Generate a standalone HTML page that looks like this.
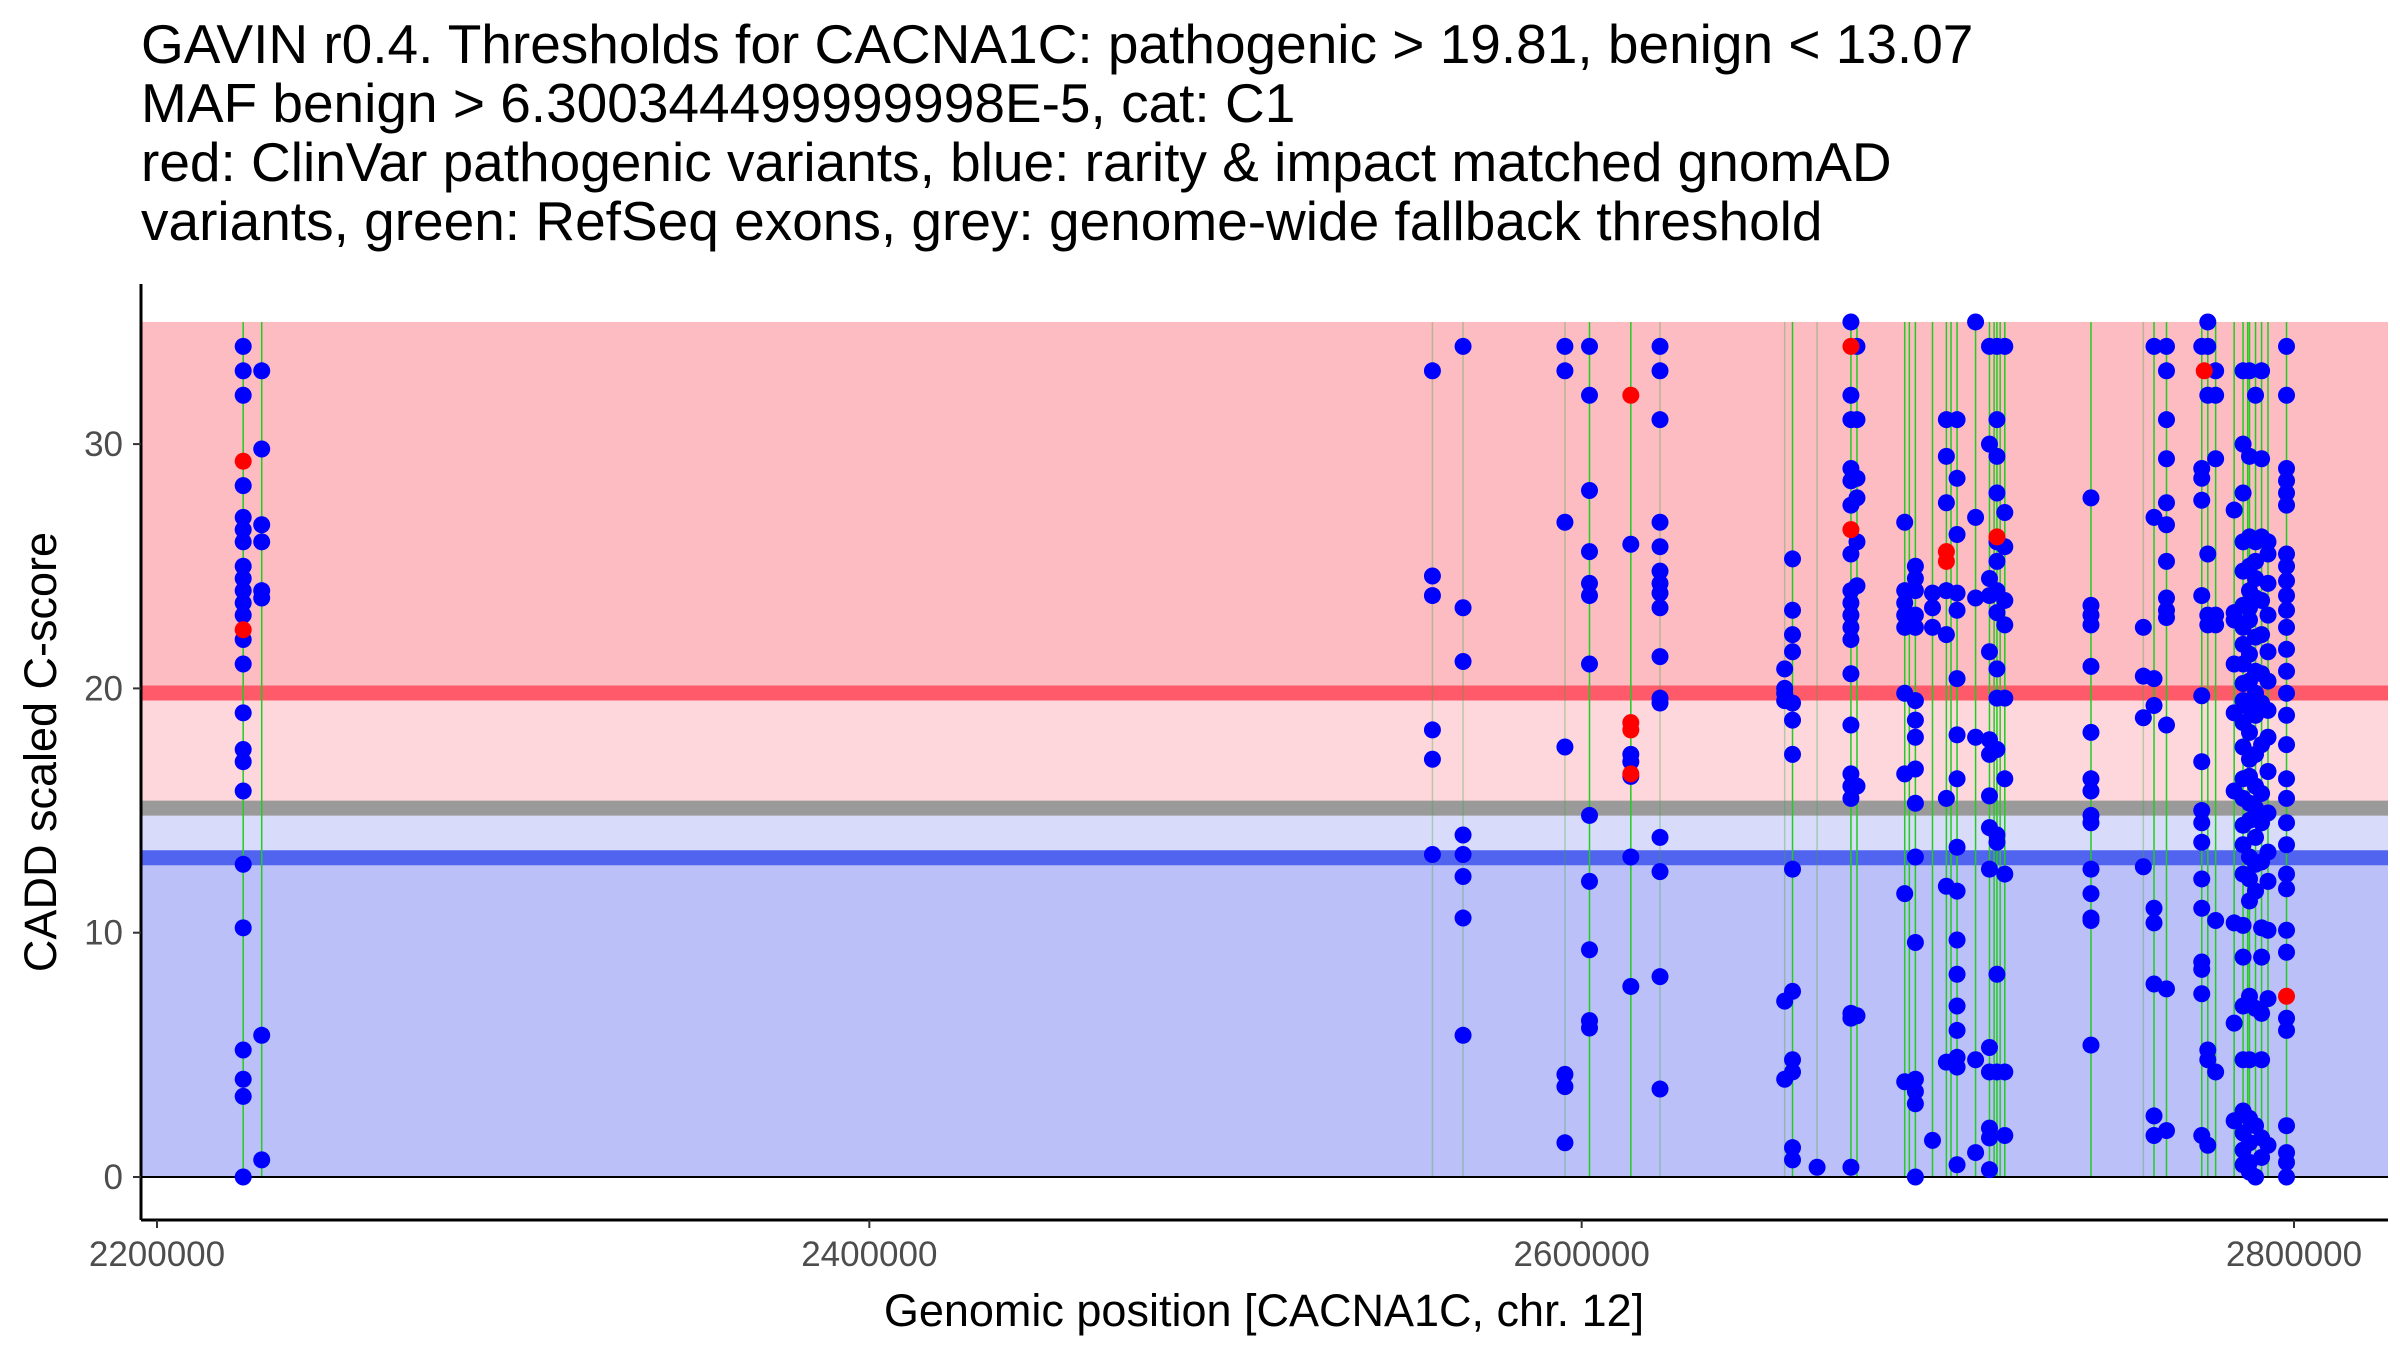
<!DOCTYPE html>
<html><head><meta charset="utf-8">
<style>
html,body{margin:0;padding:0;background:#fff;}
svg{display:block;font-family:"Liberation Sans",Arial,sans-serif;}
</style></head>
<body>
<svg id="chart" width="2400" height="1350" viewBox="0 0 2400 1350" xmlns="http://www.w3.org/2000/svg">
<g font-size="55" fill="#000">
<text x="141" y="63">GAVIN r0.4. Thresholds for CACNA1C: pathogenic &gt; 19.81, benign &lt; 13.07</text>
<text x="141" y="122">MAF benign &gt; 6.300344499999998E-5, cat: C1</text>
<text x="141" y="181">red: ClinVar pathogenic variants, blue: rarity &amp; impact matched gnomAD</text>
<text x="141" y="240">variants, green: RefSeq exons, grey: genome-wide fallback threshold</text>
</g>
<g id="bands"></g>
<g id="exons"></g>
<g id="points"></g>
<g id="axes"></g>
</svg>
<script>
// ---- data ----
const pathogenicThreshold = 19.81;
const benignThreshold = 13.07;
const fallbackThreshold = 15.1;
const bandTop = 35;
const xTicks = [2200000, 2400000, 2600000, 2800000];
const yTicks = [0, 10, 20, 30];
const exonPositions = [2224200,2229400,2602200,2613800,2659200,2675600,2677300,2690700,2692000,2693700,2698500,2702400,2703700,2705400,2710600,2714500,2715800,2716600,2717500,2718800,2743000,2760700,2764200,2774100,2775800,2778000,2783200,2785700,2787000,2787500,2789200,2790900,2792700,2797900];
const faintExonPositions = [2558100,2566700,2595300,2622000,2657000,2666100,2757700];
const clusterPositions = [2224200,2229400,2558100,2566700,2595300,2602200,2613800,2622000,2657000,2659200,2666100,2675600,2677300,2690700,2693700,2698500,2702400,2705400,2710600,2714500,2716600,2718800,2743000,2757700,2760700,2764200,2774100,2775800,2778000,2783200,2785700,2787500,2789200,2790900,2792700,2797900];
const clusterScores = [
 [34,33,32,28.3,27,26.5,26,25,24.5,24,23.5,23,22,21,19,17.5,17,15.8,12.8,10.2,5.2,4,3.3,0],
 [33,29.8,26.7,26,24,23.7,5.8,0.7],
 [33,24.6,23.8,18.3,17.1,13.2],
 [34,23.3,21.1,14,13.2,12.3,10.6,5.8],
 [34,33,26.8,17.6,4.2,3.7,1.4],
 [34,32,28.1,25.6,24.3,23.8,21,14.8,12.1,9.3,6.4,6.1],
 [25.9,17.3,17,16.4,13.1,7.8],
 [34,33,31,26.8,25.8,24.8,24.3,23.9,23.3,21.3,19.6,19.4,13.9,12.5,8.2,3.6],
 [20.8,20,19.8,19.5,7.2,4],
 [25.3,23.2,22.2,21.5,19.4,18.7,17.3,12.6,7.6,4.8,4.3,1.2,0.7],
 [0.4],
 [35,32,31,29,28.5,27.5,25.5,24,23.5,23,22.5,22,20.6,18.5,16.5,16,15.5,6.7,6.5,0.4],
 [34,31,28.6,27.8,26,24.2,16,6.6],
 [26.8,24,23.5,23,22.5,19.8,16.5,11.6,3.9],
 [25,24.5,24,23,22.5,19.5,18.7,18,16.7,15.3,13.1,9.6,4,3.5,3,0],
 [23.9,23.3,22.5,1.5],
 [31,29.5,27.6,24,22.2,15.5,11.9,4.7],
 [31,28.6,26.3,23.9,23.2,20.4,18.1,16.3,13.5,11.7,9.7,8.3,7,6,4.9,4.5,0.5],
 [35,27,23.7,18,4.8,1],
 [34,30,24.5,23.8,21.5,17.9,17.3,15.6,14.3,12.6,5.3,4.3,2,1.6,0.3],
 [34,31,29.5,28,26,25.2,24,23.1,20.8,19.6,17.5,14,13.7,8.3,4.3],
 [34,27.2,25.8,23.6,22.6,19.6,16.3,12.4,4.3,1.7],
 [27.8,23.4,23,22.6,20.9,18.2,16.3,15.8,14.8,14.5,12.6,11.6,10.6,10.5,5.4],
 [22.5,20.5,18.8,12.7],
 [34,27,20.4,19.3,11,10.4,7.9,2.5,1.7],
 [34,33,31,29.4,27.6,26.7,25.2,23.7,23.2,22.9,18.5,7.7,1.9],
 [34,29,28.6,27.7,23.8,19.7,17,15,14.5,13.7,12.2,11,8.8,8.5,7.5,1.7],
 [35,34,32,25.5,23,22.6,5.2,4.8,1.3],
 [33,32,29.4,23,22.6,10.5,4.3],
 [27.3,23.1,22.8,21,19,15.8,10.4,6.3,2.3],
 [33,30,28,26,24.8,23.4,22.5,21.8,21,20.2,19.5,18.6,17.6,16.3,15.5,14.4,13.6,12.4,10.3,9,7,4.8,2.7,1.8,1.1,0.5],
 [33,29.5,26.2,25,24,23.3,22.8,21.4,20.3,19.2,18.2,17.1,16.4,15.3,14.6,13.1,12.2,11.3,7.4,4.8,2.4,1.4,0.6,0.2],
 [32,26,25.2,24.5,23.7,22.1,20.7,19.8,18.9,17.3,16,15.1,13.9,12.8,11.7,6.9,2.1,0],
 [33,29.4,26.2,23.6,22.2,20.6,19.4,17.7,15.7,14.5,12.9,10.2,9,6.7,4.8,1.6,0.8],
 [26,25.5,24.3,23,21.5,20.3,19.1,18,16.6,14.9,13.3,12.1,10.1,7.3,1.3],
 [34,32,29,28.5,28,27.5,25.5,25,24.4,23.8,23.2,22.5,21.6,20.7,19.8,18.9,17.7,16.3,15.5,14.5,13.6,12.4,11.8,10.1,9.2,6.5,6,2.1,1,0.6,0]
];
const pathogenicPositions = [2224200,2224200,2613800,2613800,2613800,2613800,2675600,2675600,2702400,2702400,2716600,2774800,2797900];
const pathogenicScores = [29.3,22.4,32,18.6,18.3,16.5,34,26.5,25.6,25.2,26.2,33,7.4];

// ---- scales ----
const PL = 141, PR = 2388, PT = 284, PB = 1220;
function sx(v){ return 157 + (v - 2200000) / 600000 * (2294 - 157); }
function sy(v){ return 1177 - v * 24.43; }
const NS = 'http://www.w3.org/2000/svg';
function mk(tag, attrs, parent){
  const e = document.createElementNS(NS, tag);
  for (const k in attrs) e.setAttribute(k, attrs[k]);
  parent.appendChild(e);
  return e;
}
const bands = document.getElementById('bands');
let r;
r = mk('rect', {x:PL, y:sy(bandTop), width:PR-PL, height:sy(pathogenicThreshold)-sy(bandTop), fill:'#fcbcc1'}, bands);


r = mk('rect', {x:PL, y:sy(pathogenicThreshold), width:PR-PL, height:sy(fallbackThreshold)-sy(pathogenicThreshold), fill:'#fdd7dc'}, bands);


r = mk('rect', {x:PL, y:sy(fallbackThreshold), width:PR-PL, height:sy(benignThreshold)-sy(fallbackThreshold), fill:'#d9dbfb'}, bands);


r = mk('rect', {x:PL, y:sy(benignThreshold), width:PR-PL, height:sy(0)-sy(benignThreshold), fill:'#bbc0f8'}, bands);


r = mk('line', {x1:PL, x2:PR, y1:sy(pathogenicThreshold), y2:sy(pathogenicThreshold), stroke:'#ff5a69', 'stroke-width':15}, bands);


r = mk('line', {x1:PL, x2:PR, y1:sy(fallbackThreshold), y2:sy(fallbackThreshold), stroke:'#9a9a9a', 'stroke-width':15}, bands);


r = mk('line', {x1:PL, x2:PR, y1:sy(benignThreshold), y2:sy(benignThreshold), stroke:'#5064ef', 'stroke-width':15}, bands);



const exons = document.getElementById('exons');
faintExonPositions.forEach(p => {
  const l = mk('line', {x1:sx(p), x2:sx(p), y1:sy(bandTop), y2:sy(0), stroke:'rgba(60,170,60,0.35)', 'stroke-width':1.5}, exons);
  
  
});
exonPositions.forEach(p => {
  const l = mk('line', {x1:sx(p), x2:sx(p), y1:sy(bandTop), y2:sy(0), stroke:'#22cc22', 'stroke-width':1.5}, exons);
  
  
});
const zl = mk('line', {x1:PL, x2:PR, y1:sy(0), y2:sy(0), stroke:'#000', 'stroke-width':2}, exons);



const pts = document.getElementById('points');
clusterPositions.forEach((p, i) => {
  clusterScores[i].forEach(s => {
    const c = mk('circle', {cx:sx(p), cy:sy(s), r:8.5, fill:'#0000ff'}, pts);
    
    
  });
});
pathogenicPositions.forEach((p, i) => {
  const c = mk('circle', {cx:sx(p), cy:sy(pathogenicScores[i]), r:8.5, fill:'#ff0000'}, pts);
  
  
});

const ax = document.getElementById('axes');
let a = mk('line', {x1:PL, x2:PL, y1:PT, y2:PB, stroke:'#000', 'stroke-width':3}, ax);


a = mk('line', {x1:PL, x2:PR, y1:PB, y2:PB, stroke:'#000', 'stroke-width':3}, ax);


yTicks.forEach(v => {
  const t = mk('line', {x1:PL-8, x2:PL, y1:sy(v), y2:sy(v), stroke:'#333', 'stroke-width':2}, ax);
  
  
  const tx = mk('text', {x:PL-18, y:sy(v)+12, 'text-anchor':'end', 'font-size':35, fill:'#4d4d4d'}, ax);
  tx.textContent = String(v);
  
  
});
xTicks.forEach(v => {
  const t = mk('line', {x1:sx(v), x2:sx(v), y1:PB, y2:PB+8, stroke:'#333', 'stroke-width':2}, ax);
  
  
  const tx = mk('text', {x:sx(v), y:PB+46, 'text-anchor':'middle', 'font-size':35, fill:'#4d4d4d'}, ax);
  tx.textContent = String(v);
  
  
});
let tt = mk('text', {x:1264, y:1326, 'text-anchor':'middle', 'font-size':45, fill:'#000'}, ax);
tt.textContent = 'Genomic position [CACNA1C, chr. 12]';


tt = mk('text', {x:0, y:0, 'text-anchor':'middle', 'font-size':45, fill:'#000', transform:'translate(56,752) rotate(-90)'}, ax);
tt.textContent = 'CADD scaled C-score';


</script>
</body></html>
